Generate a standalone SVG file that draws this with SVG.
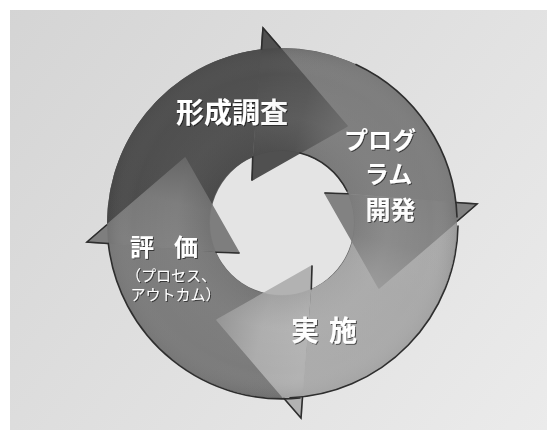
<svg xmlns="http://www.w3.org/2000/svg" width="547" height="430" viewBox="0 0 547 430">
<defs>
<style>
.lbl{font-family:"Noto Sans CJK JP","Noto Sans CJK SC",sans-serif;fill:#ffffff;font-weight:700;filter:url(#sh)}
.sub{font-weight:400;font-size:15px}
.edge{fill:none;stroke:#2e2e2e;stroke-width:1.6;stroke-linejoin:miter;stroke-linecap:round}
.head{stroke-width:1.6;stroke-linejoin:round}
</style>
<filter id="sh" x="-10%" y="-20%" width="130%" height="150%">
<feDropShadow dx="1" dy="1" stdDeviation="0.6" flood-color="#000" flood-opacity="0.55"/>
</filter>
<linearGradient id="bg" x1="0" y1="0" x2="547" y2="430" gradientUnits="userSpaceOnUse">
<stop offset="0" stop-color="#d4d4d4"/><stop offset="1" stop-color="#ebebeb"/>
</linearGradient>
<linearGradient id="b1" x1="108" y1="243" x2="262" y2="49" gradientUnits="userSpaceOnUse">
<stop offset="0" stop-color="#4b4b4b"/><stop offset="1" stop-color="#505050"/>
</linearGradient>
<linearGradient id="b2" x1="262" y1="49" x2="456" y2="202" gradientUnits="userSpaceOnUse">
<stop offset="0" stop-color="#7a7a7a"/><stop offset="1" stop-color="#828282"/>
</linearGradient>
<linearGradient id="b3" x1="456" y1="202" x2="302" y2="397" gradientUnits="userSpaceOnUse">
<stop offset="0" stop-color="#a8a8a8"/><stop offset="1" stop-color="#b2b2b2"/>
</linearGradient>
<linearGradient id="b4" x1="302" y1="397" x2="108" y2="243" gradientUnits="userSpaceOnUse">
<stop offset="0" stop-color="#7a7a7a"/><stop offset="1" stop-color="#7e7e7e"/>
</linearGradient>
<radialGradient id="bevel" cx="282" cy="223" r="176" gradientUnits="userSpaceOnUse">
<stop offset="0.41" stop-color="#000" stop-opacity="0.06"/>
<stop offset="0.6" stop-color="#fff" stop-opacity="0.05"/>
<stop offset="0.85" stop-color="#fff" stop-opacity="0"/>
<stop offset="1" stop-color="#000" stop-opacity="0.1"/>
</radialGradient>
<linearGradient id="f1" x1="163" y1="247.5" x2="185" y2="158" gradientUnits="userSpaceOnUse">
<stop offset="0" stop-color="#505050" stop-opacity="0"/><stop offset="0.5" stop-color="#505050" stop-opacity="0.12"/><stop offset="1" stop-color="#505050" stop-opacity="0.55"/>
</linearGradient>
<linearGradient id="f2" x1="257.5" y1="104" x2="347" y2="126" gradientUnits="userSpaceOnUse">
<stop offset="0" stop-color="#7e7e7e" stop-opacity="0"/><stop offset="0.5" stop-color="#7e7e7e" stop-opacity="0.12"/><stop offset="1" stop-color="#7e7e7e" stop-opacity="0.6"/>
</linearGradient>
<linearGradient id="f3" x1="401" y1="198.5" x2="379" y2="288" gradientUnits="userSpaceOnUse">
<stop offset="0" stop-color="#a8a8a8" stop-opacity="0"/><stop offset="0.5" stop-color="#a8a8a8" stop-opacity="0.12"/><stop offset="1" stop-color="#a8a8a8" stop-opacity="0.6"/>
</linearGradient>
<linearGradient id="f4" x1="306.5" y1="342" x2="217" y2="320" gradientUnits="userSpaceOnUse">
<stop offset="0" stop-color="#7c7c7c" stop-opacity="0"/><stop offset="0.5" stop-color="#7c7c7c" stop-opacity="0.12"/><stop offset="1" stop-color="#7c7c7c" stop-opacity="0.55"/>
</linearGradient>
</defs>
<rect x="0" y="0" width="547" height="430" fill="#ffffff"/>
<rect x="10" y="10" width="537" height="420" fill="url(#bg)"/>
<circle cx="282" cy="223" r="73" fill="#e4e4e4"/>

<g id="ring-base">
<path d="M107 223 A175 175 0 1 1 457 223 A175 175 0 1 1 107 223 Z M354 223 A72 72 0 1 0 210 223 A72 72 0 1 0 354 223 Z" fill="#6a6a6a" fill-rule="evenodd"/>
<path d="M215.7 252.3 L108.3 243.5 A175 175 0 0 1 261.5 49.3 L252.7 156.7 A72 72 0 0 0 215.7 252.3 Z" fill="url(#b1)"/>
<path d="M252.7 156.7 L261.5 49.3 A175 175 0 0 1 455.7 202.5 L348.3 193.7 A72 72 0 0 0 252.7 156.7 Z" fill="url(#b2)"/>
<path d="M348.3 193.7 L455.7 202.5 A175 175 0 0 1 302.5 396.7 L311.3 289.3 A72 72 0 0 0 348.3 193.7 Z" fill="url(#b3)"/>
<path d="M311.3 289.3 L302.5 396.7 A175 175 0 0 1 108.3 243.5 L215.7 252.3 A72 72 0 0 0 311.3 289.3 Z" fill="url(#b4)"/>
</g>

<g id="connectors">
<path class="head" d="M263 28 L347 126 L252 180 Z" fill="#505050" stroke="#505050"/>
<path class="head" d="M477 204 L379 288 L325 193 Z" fill="#828282" stroke="#828282"/>
<path class="head" d="M301 418 L217 320 L312 266 Z" fill="#b2b2b2" stroke="#b2b2b2"/>
<path class="head" d="M87 242 L185 158 L239 253 Z" fill="#7e7e7e" stroke="#7e7e7e"/>
<path class="edge" d="M280 47.6 L263 28 L261.5 49.3"/>
<path class="edge" d="M457.4 221 L477 204 L455.7 202.5"/>
<path class="edge" d="M284 398.4 L301 418 L302.5 396.7"/>
<path class="edge" d="M106.6 225 L87 242 L108.3 243.5"/>
<path class="edge" d="M252.7 156.7 L252 180" stroke-width="1.3"/>
<path class="edge" d="M348.3 193.7 L325 193" stroke-width="1.3"/>
<path class="edge" d="M311.3 289.3 L312 266" stroke-width="1.3"/>
<path class="edge" d="M215.7 252.3 L239 253" stroke-width="1.3"/>
</g>

<path d="M107 223 A175 175 0 1 1 457 223 A175 175 0 1 1 107 223 Z M354 223 A72 72 0 1 0 210 223 A72 72 0 1 0 354 223 Z" fill="url(#bevel)" fill-rule="evenodd"/>

<g id="node-formative">
<path d="M215.7 252.3 L108.3 243.5 A175 175 0 0 1 261.5 49.3 L252.7 156.7 A72 72 0 0 0 215.7 252.3 Z" fill="url(#f1)"/>
<text class="lbl" x="232" y="123" font-size="28" text-anchor="middle">形成調査</text>
</g>
<g id="node-program">
<path d="M252.7 156.7 L261.5 49.3 A175 175 0 0 1 455.7 202.5 L348.3 193.7 A72 72 0 0 0 252.7 156.7 Z" fill="url(#f2)"/>
<text class="lbl" x="380" y="148.5" font-size="24" text-anchor="middle">プログ</text>
<text class="lbl" x="388.5" y="183" font-size="24" text-anchor="middle">ラム</text>
<text class="lbl" x="390.5" y="218.5" font-size="25" text-anchor="middle">開発</text>
</g>
<g id="node-implement">
<path d="M348.3 193.7 L455.7 202.5 A175 175 0 0 1 302.5 396.7 L311.3 289.3 A72 72 0 0 0 348.3 193.7 Z" fill="url(#f3)"/>
<text class="lbl" x="291" y="341" font-size="28" letter-spacing="10">実施</text>
</g>
<g id="node-evaluation">
<path d="M311.3 289.3 L302.5 396.7 A175 175 0 0 1 108.3 243.5 L215.7 252.3 A72 72 0 0 0 311.3 289.3 Z" fill="url(#f4)"/>
<text class="lbl" x="130" y="256" font-size="24" letter-spacing="20">評価</text>
<text class="lbl sub" x="126" y="281">（プロセス、</text>
<text class="lbl sub" x="130.5" y="300">アウトカム）</text>
</g>

<g id="rim">
<path class="edge" d="M356 64.4 A175 175 0 0 1 457 217" stroke-width="2.2" stroke="#353535"/>
<path class="edge" d="M458 226 A175 175 0 0 1 290 397.8" stroke-width="2.2" stroke="#353535"/>
<path class="edge" d="M300 398 A175 175 0 0 1 108.3 243.5" stroke-width="2" stroke="#3a3a3a"/>
<path class="edge" d="M300 153 A72 72 0 0 1 347 191" stroke="#3c3c3c" stroke-width="1.5"/>
</g>
</svg>
